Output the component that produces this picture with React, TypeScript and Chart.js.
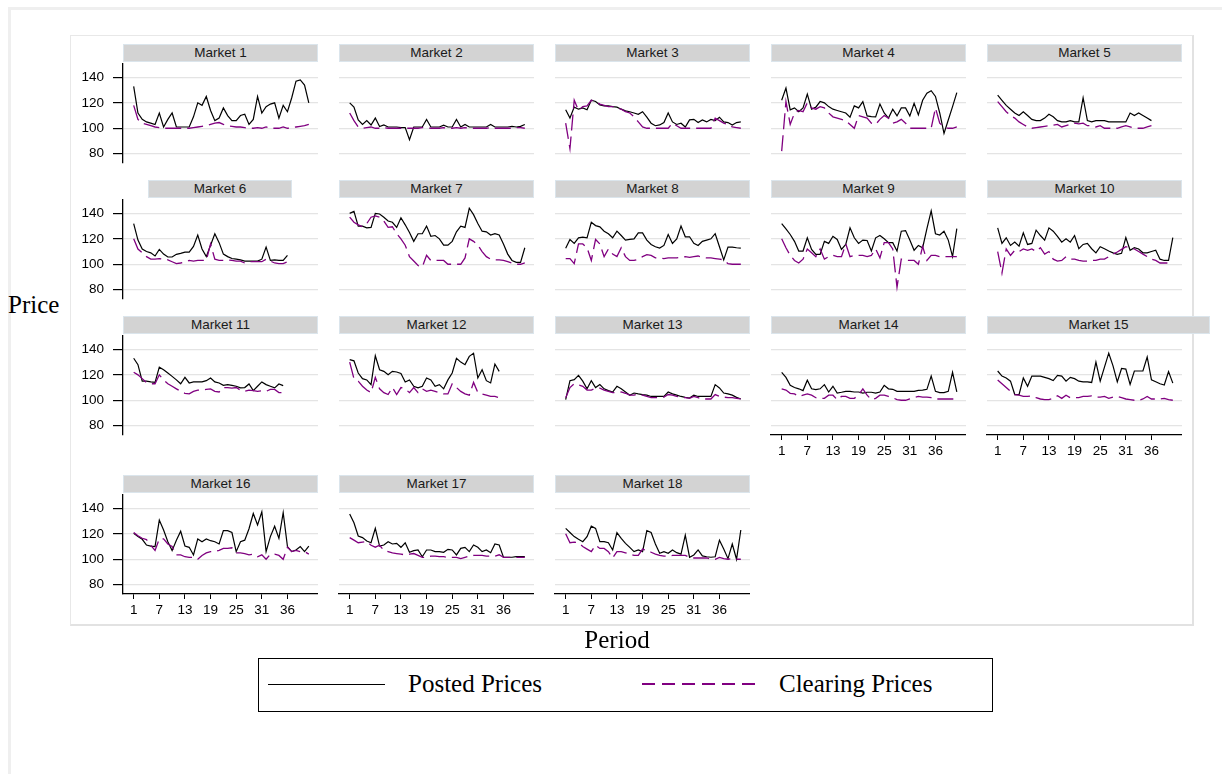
import React, { useEffect, useRef } from "react";
import { Chart, registerables } from "chart.js";

Chart.register(...registerables);

// ---------- data ----------
const tickValues = [1, 7, 13, 19, 25, 31, 37];
const tickLabels = ["1", "7", "13", "19", "25", "31", "36"];
const yTickValues = [80, 100, 120, 140];
const marketNames = [
  "Market 1", "Market 2", "Market 3", "Market 4", "Market 5",
  "Market 6", "Market 7", "Market 8", "Market 9", "Market 10",
  "Market 11", "Market 12", "Market 13", "Market 14", "Market 15",
  "Market 16", "Market 17", "Market 18",
];
const legendLabels = ["Posted Prices", "Clearing Prices"];

const posted1 = [133, 112, 107, 105, 104, 103, 112, 101, 107, 112, 101, 101, 101, 101, 109, 120, 118, 125, 114, 106, 108, 116, 110, 106, 106, 110, 111, 103, 107, 125, 112, 117, 119, 120, 108, 118, 113, 124, 137, 138, 134, 120];
const clearing1 = [118, 107, 104, 103, 102, 101, 100.5, 100, 100, 100, 100, 100, 100, 100, 100.5, 101, 101.5, 102, 103, 104, 104.5, 103, 102, 101.5, 101, 101, 100.5, 100, 100, 100.5, 100, 101, 100, 100, 100, 101, 100, 100.5, 101, 101.5, 102, 103];
const posted2 = [120, 116.6, 106.6, 103, 106, 102.6, 108, 101.3, 102.6, 101, 101, 101, 100.5, 100.5, 91, 101, 101, 101, 107, 101, 101, 101, 102.5, 101, 101, 107, 101, 103, 101, 101, 101, 101, 101, 103, 101, 101, 101, 101, 101.5, 101, 101.5, 103];
const clearing2 = [112, 106, 101, 100, 100.5, 101, 100, 100, 100.5, 100, 100, 100, 100, 100, 100, 100, 100, 100.5, 100.5, 100, 100, 100, 100.5, 100, 100, 100.5, 100, 100.5, 100, 100, 100, 100, 100, 100.5, 100, 100, 100, 100, 100, 100.5, 100.5, 100];
const posted3 = [114.5, 108, 116.6, 115, 116, 114.5, 122, 121, 118.4, 117.6, 117.6, 117, 116.6, 115, 113.7, 113, 112, 111, 113, 108.7, 104, 102, 102.6, 104.5, 112, 105, 103, 104, 101, 106.6, 107, 104.5, 106.6, 105, 107, 106, 108.7, 105, 104.5, 102.6, 104.5, 105];
const clearing3 = [104, 84, 122, 114, 117, 117.6, 122, 121, 119, 118, 117, 117, 116, 115, 113, 112, 109, 105, 101, 100, 100, 100, 100, 100, 100, 104, 102, 100, 100, 100, 100, 100, 100, 100, 100, 108, 106, 104, 103, 101, 100.5, 100];
const posted4 = [122, 131.6, 114.5, 116, 113, 116, 126.8, 115, 116.6, 121, 120, 117, 115, 114, 113, 112, 108.7, 117.6, 116, 121, 109.7, 109.2, 109, 119, 112, 108, 115, 109.7, 116, 116, 109.7, 119.7, 110.5, 122, 127.6, 129.5, 125, 112, 96, 106.5, 117, 128];
const clearing4 = [82, 121, 103, 112, 114, 113, 120, 116, 115, 117, 116, 112, 109, 108, 107, 106, 103, 100, 110, 109, 108, 104, 103, 107, 110, 108, 104, 105, 107, 104, 100, 100, 100, 100, 100, 100, 116, 104, 101, 100, 100, 101];
const posted5 = [126, 122, 118, 115, 112, 110, 113, 110, 107, 106, 106, 108, 111, 109, 106, 105, 105, 106, 105, 105, 124, 106, 105, 106, 106, 106, 105, 105, 105, 105, 105, 112, 110, 112, 110, 108, 106];
const clearing5 = [121, 117, 113, 110, 108, 105, 103, 101, 100, 100.5, 101, 101.5, 102, 102.5, 103, 101, 102, 103, 104, 103.5, 104, 102, 102, 101, 102, 100, 100, 100, 100, 101, 102, 101, 100, 100, 100, 101, 102];
const posted6 = [132, 119, 112, 110, 109, 106.5, 111.7, 108, 105.7, 105.7, 107.8, 108.6, 109.6, 109.6, 114, 123, 112, 106, 115, 124, 117, 108, 106, 104.5, 104, 103.5, 102.5, 102.5, 102.5, 102.5, 104, 113.5, 103, 103.5, 103, 103, 107];
const clearing6 = [120, 112, 109, 106, 104, 104, 104.5, 104, 103.5, 102, 100.5, 101, 102, 103, 102.5, 103, 103, 103, 116, 104, 103, 103, 103.5, 103, 102.5, 102.5, 101, 102, 102, 102, 102, 104, 102.5, 101, 100.5, 100.5, 102];
const posted7 = [140, 141.6, 130, 130, 128.6, 129, 140, 139.5, 137, 134, 133, 129, 136.6, 131, 125, 118, 124, 124, 130, 122, 122.6, 120, 115, 115, 118, 125.5, 130, 129, 144, 139, 132, 126, 125.5, 123, 124, 123, 116, 108, 103, 101.5, 101.5, 113];
const clearing7 = [137, 133, 131, 129.5, 132, 137, 138, 137, 134, 129, 129.5, 124, 120, 115, 106, 102.6, 99, 98, 107, 103, 103, 103, 103, 100, 100, 100, 100, 105, 120, 118, 115, 110, 106, 104, 103.5, 103.5, 103, 102, 101, 100, 100, 101];
const posted8 = [112.5, 119.5, 116.4, 120.8, 121.3, 120.8, 133, 130.4, 129.4, 126, 124, 120.8, 126, 122.6, 119, 119.5, 120, 124.7, 124.7, 119, 115.6, 113.8, 112.7, 114.8, 123.4, 116.4, 120, 130, 121.6, 121.6, 116.4, 114.8, 118, 119, 120, 124, 113.8, 103.4, 113.5, 113.5, 113, 112.7];
const clearing8 = [104.5, 104.5, 100.5, 116, 116, 113, 103, 119.5, 116, 106, 112, 108, 106, 113, 106, 103, 103, 104, 106, 107.5, 107, 105, 105, 104.5, 105, 105, 105, 105.5, 106, 105.5, 106, 106.5, 105.5, 105, 105, 104.5, 104, 103.5, 100.5, 100, 100, 100];
const posted9 = [132, 127.8, 123.4, 118, 110.4, 110.4, 120.8, 111.7, 107.8, 107.8, 118, 116.4, 122, 119.5, 111.7, 115.6, 128.6, 120.8, 116.4, 119, 118.7, 110.4, 120.8, 122.6, 120, 117, 117, 110.4, 126, 126.5, 119, 111, 114.8, 113, 128, 142, 124, 123, 126, 119, 106, 128];
const clearing9 = [120, 113, 107, 103, 101, 104, 112, 109, 106, 112, 104, 106, 107, 106, 106, 116, 106, 107, 107, 107, 106, 107, 112, 105, 117, 117, 112, 82, 104, 103, 103, 103, 100, 114, 103, 107, 107, 106, 106, 106, 106, 106];
const posted10 = [128.6, 116.4, 120.8, 114.8, 117.4, 114.3, 124.7, 115.6, 116.4, 126.8, 122.6, 119, 128.6, 126, 122, 117.4, 120, 117.4, 122.6, 112.2, 115.6, 116.4, 112.2, 109, 113.8, 112.2, 110.4, 109, 107.8, 108.6, 121, 111, 113, 112, 109, 109, 110, 111, 104, 103, 103, 121];
const clearing10 = [110, 93, 112, 107, 111, 110, 112, 111, 112, 110, 113, 108, 110, 104, 102.5, 103, 106, 104, 104, 103, 102.5, 102.5, 103, 103, 104, 104, 106, 108, 109.6, 111.7, 113.8, 113, 112, 110, 108, 106, 104, 103, 101, 101, 101, 101];
const posted11 = [133, 128, 115, 115, 114.4, 114, 126, 124, 121.4, 118.8, 116, 113, 118, 113.6, 114.4, 114.4, 114.4, 115.4, 117.5, 114.4, 113.6, 111.7, 112.3, 111.7, 111, 109.7, 110, 112.8, 107.6, 111, 114.4, 112.3, 111, 109.7, 112.8, 111.5];
const clearing11 = [122, 120, 117, 114, 113, 113, 120, 116, 113, 111, 109, 107, 105.5, 105, 107, 108, 108, 108.5, 109, 107, 106.5, 110, 110, 109.5, 110, 108, 107, 108, 107.5, 107, 107.5, 107, 108.5, 108.5, 106, 106];
const posted12 = [132, 131, 121.4, 117, 116, 112.3, 135, 124, 122.7, 120, 122.7, 122.2, 121, 114.4, 116, 111, 109.7, 111, 117.5, 116, 111, 112.3, 109, 116, 121.4, 133, 130, 128, 134.5, 137, 117.5, 124, 115.4, 113.6, 128.5, 122.7];
const clearing12 = [130, 117, 115, 111, 108, 106, 118, 109, 106, 104.5, 110, 104.5, 110, 109, 106, 110, 106, 109, 107, 108, 107, 106, 105, 105, 113, 110, 107, 105, 104, 114, 106, 105, 104, 103, 103, 102];
const posted13 = [100.5, 115.4, 116.2, 119.6, 115, 109, 115.4, 110, 112.3, 109, 107.6, 106.5, 111, 109, 106.5, 104, 105.7, 105, 104.4, 104, 103, 103, 103, 103, 106.5, 105, 104, 103, 102.3, 101.8, 104, 103, 103, 103, 103, 112.3, 109.7, 105.7, 105, 104, 102.3, 101];
const clearing13 = [102, 110, 113, 112, 111, 108, 108, 109.5, 109.5, 108, 107, 106, 106, 106.5, 105.5, 104, 104, 105, 104, 103, 102, 102, 102, 102.5, 104.5, 104, 103, 102.5, 102, 101.5, 103, 102, 101, 101, 101, 104.5, 103, 102.5, 102, 102, 101.5, 101];
const posted14 = [122, 118, 111.7, 110, 109, 107.6, 115.7, 109, 108.4, 109, 112.3, 106.5, 111, 105.7, 106.3, 107, 107, 106.5, 106.5, 105.7, 106.3, 106.3, 105.7, 106.5, 111.7, 109, 108.6, 107, 107, 107, 107, 107, 107.8, 108, 108.6, 119, 107, 106, 106, 107, 122, 106.5];
const clearing14 = [109, 108, 105.5, 105, 103, 104, 105, 104, 102, 101.5, 101.5, 104, 104, 100.5, 103, 103, 101.5, 101.5, 104, 109, 104, 100.5, 101.5, 104, 104, 103, 102, 100.5, 100, 100, 101, 102, 103, 102.5, 102.5, 102, 101, 101, 101, 101, 101, 101];
const posted15 = [123, 119, 117.5, 115, 104.5, 104.5, 117.5, 111, 119, 119, 119, 118, 117, 115.5, 119.5, 119, 115, 118, 117, 115, 114.5, 114.5, 114, 130, 115, 126, 137, 127, 114.5, 125, 124.5, 112.5, 123, 123, 123, 134, 116, 114.5, 113, 112, 122.5, 113.5];
const clearing15 = [116, 113, 110, 107, 104.5, 104, 103, 103, 103.5, 102, 101, 100.5, 100.5, 101.5, 103.5, 101.5, 104, 102, 102, 102, 103, 103, 103.5, 102.5, 102.5, 103, 101.5, 102.5, 103, 102, 101, 100.5, 100, 100, 101, 103, 101, 101, 101, 101.5, 100.5, 100];
const posted16 = [120.4, 117.8, 115.7, 111.2, 110.4, 110, 130.8, 123, 113.8, 106.8, 115, 122, 110.4, 109.4, 103.4, 116, 113.8, 116, 114.6, 113.8, 112, 122.5, 122.5, 121, 106, 113.8, 115, 124, 136, 127, 137.3, 106, 117.8, 126, 116.4, 136.6, 110, 106, 107.3, 110, 106, 110.4];
const clearing16 = [121, 118.5, 116.5, 115.5, 111, 107, 116, 116, 112, 110, 103.5, 103.5, 102, 101.5, 101.5, 100, 103, 105, 106, 106, 107, 108.5, 108.5, 109, 105, 105, 104.5, 103.5, 104, 102, 103.5, 100, 104, 104, 103, 100, 109.5, 106, 107, 106, 106, 104];
const posted17 = [135.5, 128.7, 118.3, 117, 114.3, 113, 124.3, 110.4, 111.2, 113.8, 112, 112.5, 109.4, 113, 105.5, 106.8, 107.3, 102, 107.3, 107.3, 106, 106, 105.5, 107.8, 107.3, 103.4, 108.6, 109.4, 106, 111.2, 109.4, 106, 107.3, 105.2, 112, 111.2, 101.6, 101.6, 101.6, 102, 102, 102];
const clearing17 = [117, 115, 113, 113.5, 114, 111, 109.5, 111, 107, 106, 105, 104.5, 104, 103.5, 104, 104.5, 103, 101.5, 101.5, 102.5, 102.5, 102, 102, 101.5, 101.5, 101.5, 100.5, 101.5, 102.5, 103, 103, 103, 102.5, 102.5, 102.5, 103.5, 101.5, 101.5, 101.5, 101.5, 101.5, 101.5];
const posted18 = [124.3, 121, 117.8, 115.7, 113.8, 117.8, 126, 124.3, 113.8, 113.8, 113, 107.3, 121, 116.4, 112.5, 109.4, 106, 107.3, 106, 122.5, 121, 112, 104.7, 106, 104.7, 107.3, 105.2, 104, 119, 101.6, 103.4, 107.3, 102.6, 102, 101.6, 102, 115, 108, 100.5, 112, 100, 123];
const clearing18 = [120, 113, 113.5, 113, 110, 108, 106, 111, 108.5, 108.5, 106, 101, 106, 106, 105, 104, 103, 103, 108, 107, 105.5, 104, 103, 102.5, 102.5, 103, 103, 103, 103, 101.5, 101, 101, 101, 101, 100, 100, 101.5, 100.5, 100, 100.5, 100, 100];

const postedSeries = [posted1, posted2, posted3, posted4, posted5, posted6, posted7, posted8, posted9, posted10, posted11, posted12, posted13, posted14, posted15, posted16, posted17, posted18];
const clearingSeries = [clearing1, clearing2, clearing3, clearing4, clearing5, clearing6, clearing7, clearing8, clearing9, clearing10, clearing11, clearing12, clearing13, clearing14, clearing15, clearing16, clearing17, clearing18];

// ---------- layout / style ----------
const SANS = '"Liberation Sans", Arial, sans-serif';
const SERIF = '"Liberation Serif", "Times New Roman", serif';
const PURPLE = "#800080";
const colLefts = [123, 339, 555, 771, 987];
const rowTops = [63, 199, 335, 494];
const PLOT_W = 195;
const PLOT_H = 100;
const Y_AXIS_W = 45;
const X_AXIS_H = 30;

function Panel({ index }: { index: number }) {
  const ref = useRef<HTMLCanvasElement | null>(null);
  const col = index % 5;
  const row = Math.floor(index / 5);
  const showY = col === 0;
  const showX = row === 3 || (row === 2 && col >= 3);

  useEffect(() => {
    if (!ref.current) return;
    const toPts = (arr: number[]) => arr.map((v, i) => ({ x: i + 1, y: v }));
    const chart = new Chart(ref.current, {
      type: "line",
      data: {
        datasets: [
          {
            label: legendLabels[1],
            data: toPts(clearingSeries[index]),
            borderColor: PURPLE,
            borderWidth: 1.3,
            borderDash: [16, 6],
            pointRadius: 0,
            tension: 0,
            fill: false,
          },
          {
            label: legendLabels[0],
            data: toPts(postedSeries[index]),
            borderColor: "#000",
            borderWidth: 1.2,
            pointRadius: 0,
            tension: 0,
            fill: false,
          },
        ],
      },
      options: {
        animation: false,
        responsive: false,
        devicePixelRatio: 1,
        layout: { padding: 0 },
        plugins: {
          legend: { display: false },
          tooltip: { enabled: false },
          title: { display: false },
        },
        scales: {
          x: {
            type: "linear",
            min: -1.5,
            max: 44.15,
            position: "bottom",
            afterBuildTicks: (s: any) => {
              s.ticks = tickValues.map((v) => ({ value: v }));
            },
            afterFit: (s: any) => {
              s.height = X_AXIS_H;
              s.paddingLeft = 0;
              s.paddingRight = 0;
            },
            ticks: {
              display: showX,
              autoSkip: false,
              maxRotation: 0,
              minRotation: 0,
              padding: 3,
              color: "#000",
              font: { family: SANS, size: 13.5 },
              callback: (v: any) => {
                const k = tickValues.indexOf(Number(v));
                return k >= 0 ? tickLabels[k] : "";
              },
            },
            grid: {
              display: showX,
              drawOnChartArea: false,
              drawTicks: true,
              tickLength: 5,
              tickColor: "#000",
              color: "#000",
              lineWidth: 1,
            },
            border: { display: showX, color: "#000", width: 1.3 },
          },
          y: {
            type: "linear",
            min: 72.7,
            max: 151.3,
            afterBuildTicks: (s: any) => {
              s.ticks = yTickValues.map((v) => ({ value: v }));
            },
            afterFit: (s: any) => {
              s.width = Y_AXIS_W;
              s.paddingTop = 0;
              s.paddingBottom = 0;
            },
            ticks: {
              display: showY,
              padding: 9,
              color: "#000",
              font: { family: SANS, size: 13.5 },
            },
            grid: {
              color: "#e4e4e4",
              lineWidth: 1.2,
              drawTicks: showY,
              tickLength: 10,
              tickColor: "#000",
            },
            border: { display: showY, color: "#000", width: 1.3 },
          },
        },
      } as any,
    });
    return () => chart.destroy();
  }, [index]);

  const left = colLefts[col];
  const top = rowTops[row];
  let hLeft = left;
  let hWidth = PLOT_W;
  if (index === 5) {
    hLeft = 148;
    hWidth = 144;
  }
  if (index === 14) {
    hWidth = 223;
  }

  return (
    <>
      <div
        style={{
          position: "absolute",
          left: hLeft,
          top: top - 19,
          width: hWidth,
          height: 18,
          boxSizing: "border-box",
          background: "#d3d3d3",
          border: "1px solid #dbe5ec",
          font: `13.5px ${SANS}`,
          lineHeight: "16px",
          color: "#1a1a1a",
          textAlign: "center",
        }}
      >
        {marketNames[index]}
      </div>
      <canvas
        ref={ref}
        width={Y_AXIS_W + PLOT_W}
        height={PLOT_H + X_AXIS_H}
        style={{
          position: "absolute",
          left: left - Y_AXIS_W,
          top: top,
          width: Y_AXIS_W + PLOT_W,
          height: PLOT_H + X_AXIS_H,
        }}
      />
    </>
  );
}

export default function App() {
  return (
    <div style={{ position: "absolute", left: 0, top: 0, width: 1222, height: 774, background: "#fff", overflow: "hidden" }}>
      <div
        style={{
          position: "absolute",
          left: 8,
          top: 7,
          width: 1222,
          height: 800,
          boxSizing: "border-box",
          borderTop: "3px solid #efefef",
          borderLeft: "3px solid #efefef",
        }}
      />
      <div
        style={{
          position: "absolute",
          left: 70,
          top: 35,
          width: 1124,
          height: 591,
          boxSizing: "border-box",
          borderTop: "1.5px solid #e8e8e8",
          borderLeft: "1.5px solid #e8e8e8",
          borderRight: "2.5px solid #e2e2e2",
          borderBottom: "2.5px solid #e2e2e2",
        }}
      />
      {marketNames.map((_, i) => (
        <Panel key={i} index={i} />
      ))}
      <div style={{ position: "absolute", left: 8, top: 290, font: `25px ${SERIF}`, lineHeight: "30px", color: "#000" }}>
        Price
      </div>
      <div
        style={{
          position: "absolute",
          left: 517,
          width: 200,
          top: 625,
          textAlign: "center",
          font: `25px ${SERIF}`,
          lineHeight: "30px",
          color: "#000",
        }}
      >
        Period
      </div>
      <div
        style={{
          position: "absolute",
          left: 258,
          top: 658,
          width: 735,
          height: 54,
          boxSizing: "border-box",
          border: "1.5px solid #000",
        }}
      >
        <div style={{ position: "absolute", left: 9, top: 25, width: 117, height: 0, borderTop: "1.5px solid #000" }} />
        <div
          style={{
            position: "absolute",
            left: 149,
            top: 10,
            font: `25px ${SERIF}`,
            lineHeight: "30px",
            color: "#000",
            whiteSpace: "nowrap",
          }}
        >
          {legendLabels[0]}
        </div>
        <div
          style={{
            position: "absolute",
            left: 383,
            top: 24,
            width: 117,
            height: 2,
            background: `repeating-linear-gradient(to right, ${PURPLE} 0px, ${PURPLE} 13px, transparent 13px, transparent 20px)`,
          }}
        />
        <div
          style={{
            position: "absolute",
            left: 520,
            top: 10,
            font: `25px ${SERIF}`,
            lineHeight: "30px",
            color: "#000",
            whiteSpace: "nowrap",
          }}
        >
          {legendLabels[1]}
        </div>
      </div>
    </div>
  );
}
